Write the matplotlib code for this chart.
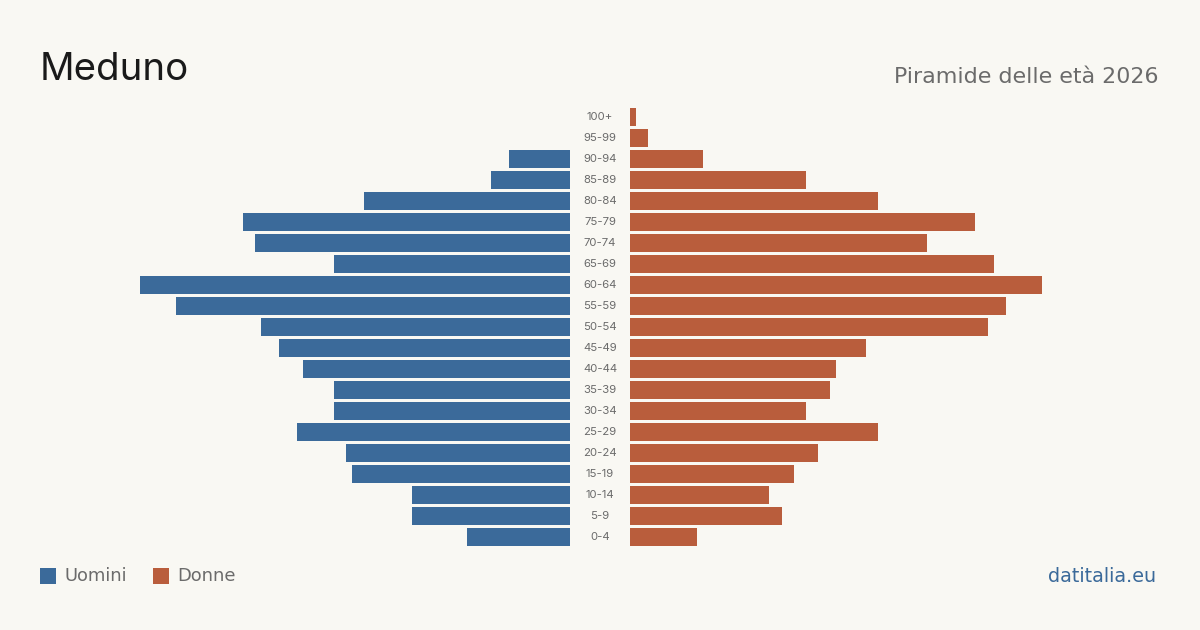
import matplotlib
matplotlib.use("Agg")
import matplotlib.pyplot as plt
from matplotlib.patches import Rectangle

age_groups = ["0-4", "5-9", "10-14", "15-19", "20-24", "25-29", "30-34", "35-39",
              "40-44", "45-49", "50-54", "55-59", "60-64", "65-69", "70-74", "75-79",
              "80-84", "85-89", "90-94", "95-99", "100+"]
uomini = [17, 26, 26, 36, 37, 45, 39, 39, 44, 48, 51, 65, 71, 39, 52, 54, 34, 13, 10, 0, 0]
donne = [11, 25, 23, 27, 31, 41, 29, 33, 34, 39, 59, 62, 68, 60, 49, 57, 41, 29, 12, 3, 1]

BG = "#f9f8f3"
BLUE = "#3b6a9a"
ORANGE = "#b95d3c"
GRAY = "#6b6b6b"

plt.rcParams['font.family'] = ['Inter', 'DejaVu Sans']
WIDE = ['DejaVu Sans']

W, H = 1200, 630
fig = plt.figure(figsize=(W / 100, H / 100), dpi=100, facecolor=BG)

def ax_rect(x0, x1, ytop, ybot):
    return [x0 / W, 1 - ybot / H, (x1 - x0) / W, (ybot - ytop) / H]

ytop, ybot = 106.5, 547.5
xmax = 530 / 6.06
n = len(age_groups)
pos = list(range(n))

axL = fig.add_axes(ax_rect(40, 570, ytop, ybot))
axR = fig.add_axes(ax_rect(630, 1160, ytop, ybot))
axM = fig.add_axes(ax_rect(570, 630, ytop, ybot))

axL.barh(pos, uomini, height=0.81, color=BLUE)
axL.set_xlim(xmax, 0)
axR.barh(pos, donne, height=0.81, color=ORANGE)
axR.set_xlim(0, xmax)
for a in (axL, axR, axM):
    a.set_ylim(-0.5, n - 0.5)
    a.axis('off')
    a.set_facecolor('none')
axM.set_xlim(0, 1)
for i, lab in enumerate(age_groups):
    axM.text(0.5, i, lab, ha='center', va='center', fontsize=8.2, color=GRAY)

fig.text(40 / W, 1 - 80 / H, "Meduno", fontsize=27.6, color="#1a1a1a",
         ha='left', va='baseline')
fig.text(1158 / W, 1 - 83 / H, "Piramide delle età 2026", fontsize=15.9,
         color=GRAY, ha='right', va='baseline', family=WIDE)

# legend
for x0, col, lab in [(40, BLUE, "Uomini"), (153, ORANGE, "Donne")]:
    fig.patches.append(Rectangle((x0 / W, 1 - 584 / H), 16 / W, 16 / H,
                                 transform=fig.transFigure, facecolor=col,
                                 edgecolor='none'))
    fig.text((x0 + 24) / W, 1 - 576 / H, lab, fontsize=12.9, color=GRAY,
             ha='left', va='center', family=WIDE)

fig.text(1156 / W, 1 - 576 / H, "datitalia.eu", fontsize=13.8, color=BLUE,
         ha='right', va='center', family=WIDE)

fig.savefig("out.png", dpi=100, facecolor=BG)
